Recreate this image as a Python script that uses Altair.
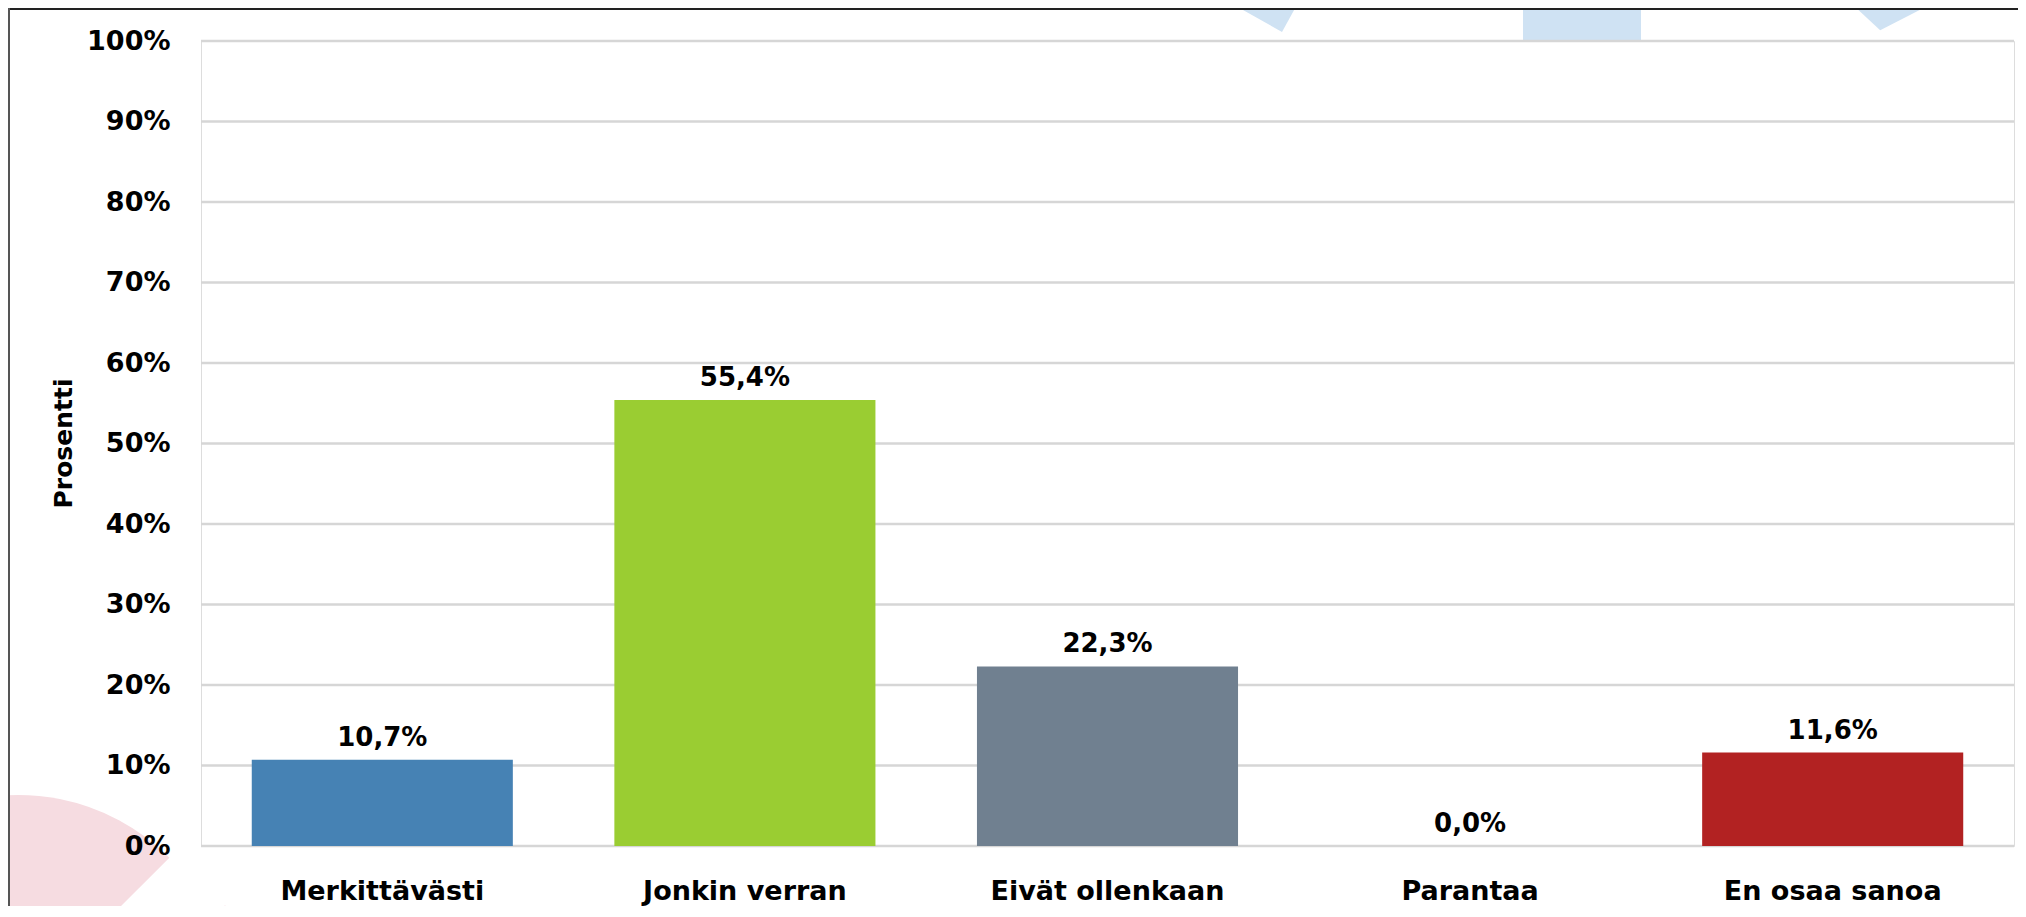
import altair as alt
import pandas as pd

categories = ["Merkittävästi", "Jonkin verran", "Eivät ollenkaan", "Parantaa", "En osaa sanoa"]
values = [10.7, 55.4, 22.3, 0.0, 11.6]
bar_colors = ["#4682B4", "#9ACD32", "#708090", "#D2691E", "#B22222"]
y_ticks = [0, 10, 20, 30, 40, 50, 60, 70, 80, 90, 100]

df = pd.DataFrame({
    "kategoria": categories,
    "arvo": values,
    "teksti": [f"{v:.1f}".replace(".", ",") + "%" for v in values],
})
grid_df = pd.DataFrame({"arvo": y_ticks})
deco = pd.DataFrame({"d": [0]})

FONT = "DejaVu Sans"
FS = 26
AFS = 27

x_enc = alt.X(
    "kategoria:N",
    sort=categories,
    scale=alt.Scale(paddingInner=0.28, paddingOuter=0.14),
    axis=alt.Axis(
        title=None, labelAngle=0, domain=False, ticks=False, tickSize=0,
        labelPadding=32, labelFontSize=AFS, labelFont=FONT, labelFontWeight="bold",
        labelColor="#000000", labelBaseline="top", labelLimit=0,
    ),
)
y_scale = alt.Scale(domain=[0, 100], nice=False)
y_enc = alt.Y(
    "arvo:Q",
    scale=y_scale,
    axis=alt.Axis(
        title="Prosentti", values=y_ticks, labelExpr="datum.value + '%'",
        domain=False, ticks=False, tickSize=0, labelPadding=31, grid=False, zindex=1,
        labelFontSize=AFS, labelFont=FONT, labelFontWeight="bold", labelColor="#000000",
        titleFont=FONT, titleFontSize=25, titleFontWeight="bold", titleColor="#000000",
        titleAngle=-90, titleX=-138, titleY=402, titleAlign="center", titleBaseline="middle",
    ),
)

# decorative slide background shapes (not data)
pink_arc = alt.Chart(deco).mark_arc(
    color="#f6dce1", radius=214, theta=4.712, theta2=7.069
).encode(x=alt.value(-183), y=alt.value(968))
pink_tri = alt.Chart(deco).mark_point(
    shape="M0,-1L1,1L-1,1Z", size=1600, filled=True, opacity=1, color="#f6dce1"
).encode(x=alt.value(24), y=alt.value(884))
blue_rect = alt.Chart(deco).mark_rect(color="#cfe2f3").encode(
    x=alt.value(1322), x2=alt.value(1440), y=alt.value(-41), y2=alt.value(0)
)
blue_tri1 = alt.Chart(deco).mark_point(
    shape="M-0.93,-0.4L0.93,-0.4L0.49,0.4Z", size=10000, filled=True, opacity=1, color="#cfe2f3"
).encode(x=alt.value(1056.5), y=alt.value(-29))
blue_tri2 = alt.Chart(deco).mark_point(
    shape="M-0.97,-0.32L0.97,-0.32L-0.28,0.32Z", size=14400, filled=True, opacity=1, color="#cfe2f3"
).encode(x=alt.value(1696), y=alt.value(-30))

grid = alt.Chart(grid_df).mark_rule(color="#d6d6d6", strokeWidth=2.5).encode(
    y=alt.Y("arvo:Q", scale=y_scale),
    x=alt.value(0), x2=alt.value(1813),
)

bars = alt.Chart(df).mark_bar().encode(
    x=x_enc,
    y=y_enc,
    color=alt.Color("kategoria:N", sort=categories,
                    scale=alt.Scale(domain=categories, range=bar_colors), legend=None),
)

labels = alt.Chart(df).mark_text(
    dy=-14, baseline="alphabetic", align="center",
    font=FONT, fontSize=FS, fontWeight="bold", color="#000000",
).encode(
    x=alt.X("kategoria:N", sort=categories),
    y=alt.Y("arvo:Q"),
    text="teksti:N",
)

border_top = alt.Chart(deco).mark_rule(color="#222222", strokeWidth=2).encode(
    x=alt.value(-193), x2=alt.value(1830), y=alt.value(-32)
)
border_left = alt.Chart(deco).mark_rule(color="#555555", strokeWidth=2).encode(
    x=alt.value(-192), y=alt.value(-33), y2=alt.value(880)
)

chart = alt.layer(
    pink_arc, pink_tri, blue_rect, blue_tri1, blue_tri2, grid,
    bars, labels, border_top, border_left
).properties(
    width=1813,
    height=805,
    autosize=alt.AutoSizeParams(type="none"),
    padding={"left": 193, "top": 33, "right": 4, "bottom": 60},
).configure_view(stroke=None).configure(background="white")

chart.save("out.html", embed_options={"renderer": "svg", "actions": False})
